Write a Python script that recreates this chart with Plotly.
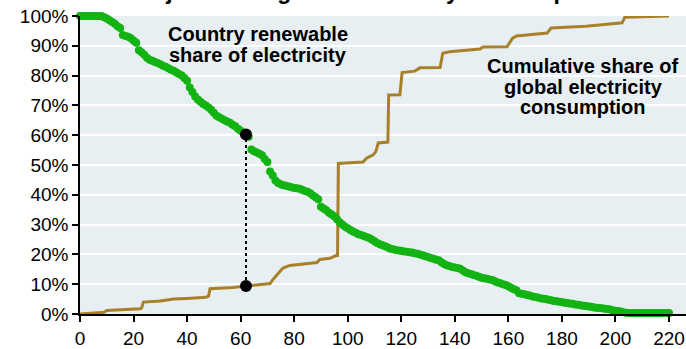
import plotly.graph_objects as go

# Country rank (x) and renewable share of electricity (%)
rank = list(range(0, 221))
renewable_share = [
    100, 100, 100, 100, 100, 100, 100, 100, 100, 99.6,      # 0-9
    99.2, 98.6, 98, 97.4, 96.6, 96, 93.6, 93.3, 93, 92.5,   # 10-19
    91.8, 91, 88.5, 87.8, 87, 86, 85.3, 85, 84.6, 84.2,     # 20-29
    83.8, 83.3, 83, 82.5, 82, 81.6, 81, 80.5, 80, 79.2,     # 30-39
    78.3, 76, 74.5, 73, 72, 71.2, 70.5, 70, 69.3, 68.5,     # 40-49
    67.5, 66.5, 66, 65.5, 65, 64.6, 64.2, 63.5, 63, 62.2,   # 50-59
    61.5, 60.8, 60.2, 59.5, 55.2, 54.6, 54.2, 53.8, 53.3, 52,  # 60-69
    51, 47.8, 46.5, 44.8, 44, 43.5, 43.2, 43, 42.8, 42.5,   # 70-79
    42.3, 42.2, 42, 41.7, 41.3, 41, 40.5, 39.8, 39.2, 38.5, # 80-89
    36, 35.4, 34.8, 34, 33.4, 32.8, 31.8, 30.8, 30, 29.3,   # 90-99
    28.8, 28.2, 27.7, 27.3, 26.8, 26.5, 26.2, 25.8, 25.5, 25,  # 100-109
    24.4, 23.8, 23.4, 23.1, 22.7, 22.3, 21.9, 21.7, 21.5, 21.3,  # 110-119
    21.2, 21, 20.9, 20.7, 20.6, 20.4, 20.2, 20, 19.7, 19.4,  # 120-129
    19.1, 18.8, 18.5, 18.2, 18, 17.4, 16.8, 16.4, 16.1, 15.8,  # 130-139
    15.6, 15.4, 15.2, 14.6, 14, 13.7, 13.4, 13.1, 12.8, 12.5,  # 140-149
    12.2, 12, 11.8, 11.6, 11.4, 11, 10.6, 10.3, 10, 9.7,    # 150-159
    9.3, 8.8, 8.3, 8, 7, 6.8, 6.6, 6.4, 6.2, 5.9,           # 160-169
    5.7, 5.5, 5.3, 5.1, 5, 4.8, 4.6, 4.4, 4.3, 4.1,         # 170-179
    4, 3.8, 3.7, 3.5, 3.4, 3.2, 3.1, 2.9, 2.8, 2.7,         # 180-189
    2.5, 2.4, 2.2, 2.1, 2, 1.9, 1.8, 1.7, 1.5, 1.3,         # 190-199
    1.1, 1, 0.8, 0.6, 0.4, 0.3, 0.3, 0.3, 0.3, 0.3,         # 200-209
    0.3, 0.3, 0.3, 0.3, 0.3, 0.3, 0.3, 0.3, 0.3, 0.3,       # 210-219
    0.3,                                                    # 220
]

# Cumulative share of global electricity consumption (%) at rank
cum_rank = [0, 5, 9, 10, 16, 22.4, 23, 23.7, 30, 35, 40, 47, 48, 48.6, 57, 62,
            71, 72, 75.8, 78.4, 88.5, 89.6, 93.4, 95.6, 96.2, 96.5, 105.7, 107,
            109.5, 110.5, 111.4, 115, 115.3, 119.5, 120.3, 125, 127, 134.5,
            135.5, 138, 149.4, 150.5, 159.5, 161.5, 163, 174.5, 176, 189, 199,
            202.5, 203.5, 220]
cum_share = [0, 0.3, 0.6, 1.2, 1.4, 1.8, 2, 4, 4.4, 5, 5.2, 5.6, 6, 8.5, 8.9, 9.4,
             10.2, 11.5, 15.4, 16.3, 17.3, 18.3, 18.7, 19.6, 19.6, 50.5, 51, 52.3,
             53.4, 54.5, 57.4, 57.7, 73.5, 73.6, 81, 81.5, 82.6, 82.7,
             87.5, 88, 88.9, 89.6, 89.7, 92.5, 93.3, 94.3, 96, 96.6, 97.5,
             97.7, 99.6, 100]

# Highlighted country
hl_rank = [62, 62]
hl_values = [9.4, 60.2]

y_ticks = list(range(0, 101, 10))
y_tick_labels = [f"{v}%" for v in y_ticks]
x_ticks = list(range(0, 221, 20))

title_text = "Renewable share adjusted for global electricity consumption"
label_green = ["Country renewable", "share of electricity"]
label_gold = ["Cumulative share of", "global electricity", "consumption"]

GREEN = "#12b312"
GOLD = "#a8802a"
FONT = "Liberation Sans, Arial, sans-serif"

fig = go.Figure()
fig.add_trace(go.Scatter(x=cum_rank, y=cum_share, mode="lines",
                         line=dict(color=GOLD, width=3), cliponaxis=False,
                         hoverinfo="skip"))
fig.add_trace(go.Scatter(x=rank, y=renewable_share, mode="markers",
                         marker=dict(color=GREEN, size=8, line=dict(width=0)),
                         cliponaxis=False))
fig.add_trace(go.Scatter(x=hl_rank, y=hl_values, mode="lines+markers",
                         line=dict(color="black", width=2, dash="dot"),
                         marker=dict(color="black", size=12),
                         cliponaxis=False))

for txt, yv in zip(label_green, [94.0, 86.9]):
    fig.add_annotation(x=66.5, y=yv, xref="x", yref="y", text=f"<b>{txt}</b>",
                       showarrow=False, font=dict(family=FONT, size=20, color="black"))
for txt, yv in zip(label_gold, [83.2, 76.3, 69.3]):
    fig.add_annotation(x=188, y=yv, xref="x", yref="y", text=f"<b>{txt}</b>",
                       showarrow=False, font=dict(family=FONT, size=20, color="black"))

fig.add_annotation(x=-0.226, y=1.034, xref="paper", yref="paper",
                   xanchor="left", yanchor="bottom",
                   text=f"<b>{title_text}</b>",
                   showarrow=False, font=dict(family=FONT, size=23, color="black"))

fig.update_layout(
    width=686, height=349,
    margin=dict(l=80, r=0, t=16, b=35),
    paper_bgcolor="white",
    plot_bgcolor="#e7eff3",
    showlegend=False,
    font=dict(family=FONT, size=19, color="black"),
)
fig.update_xaxes(range=[0, 226.35], tickvals=x_ticks, showgrid=False, automargin=False,
                 zeroline=False, showline=True, linecolor="black", linewidth=1.5,
                 ticks="outside", ticklen=6, tickcolor="black", tickwidth=1.5,
                 tickfont=dict(size=19))
fig.update_yaxes(range=[0, 100], tickvals=y_ticks, ticktext=y_tick_labels, automargin=False,
                 showgrid=True, gridcolor="white", gridwidth=2,
                 zeroline=False, showline=True, linecolor="black", linewidth=1.5,
                 ticks="outside", ticklen=6, tickcolor="black", tickwidth=1.5,
                 tickfont=dict(size=19))

fig.write_html("out.html", config={"displayModeBar": False},
               post_script="document.body.style.margin='0px';document.body.style.padding='0px';")
